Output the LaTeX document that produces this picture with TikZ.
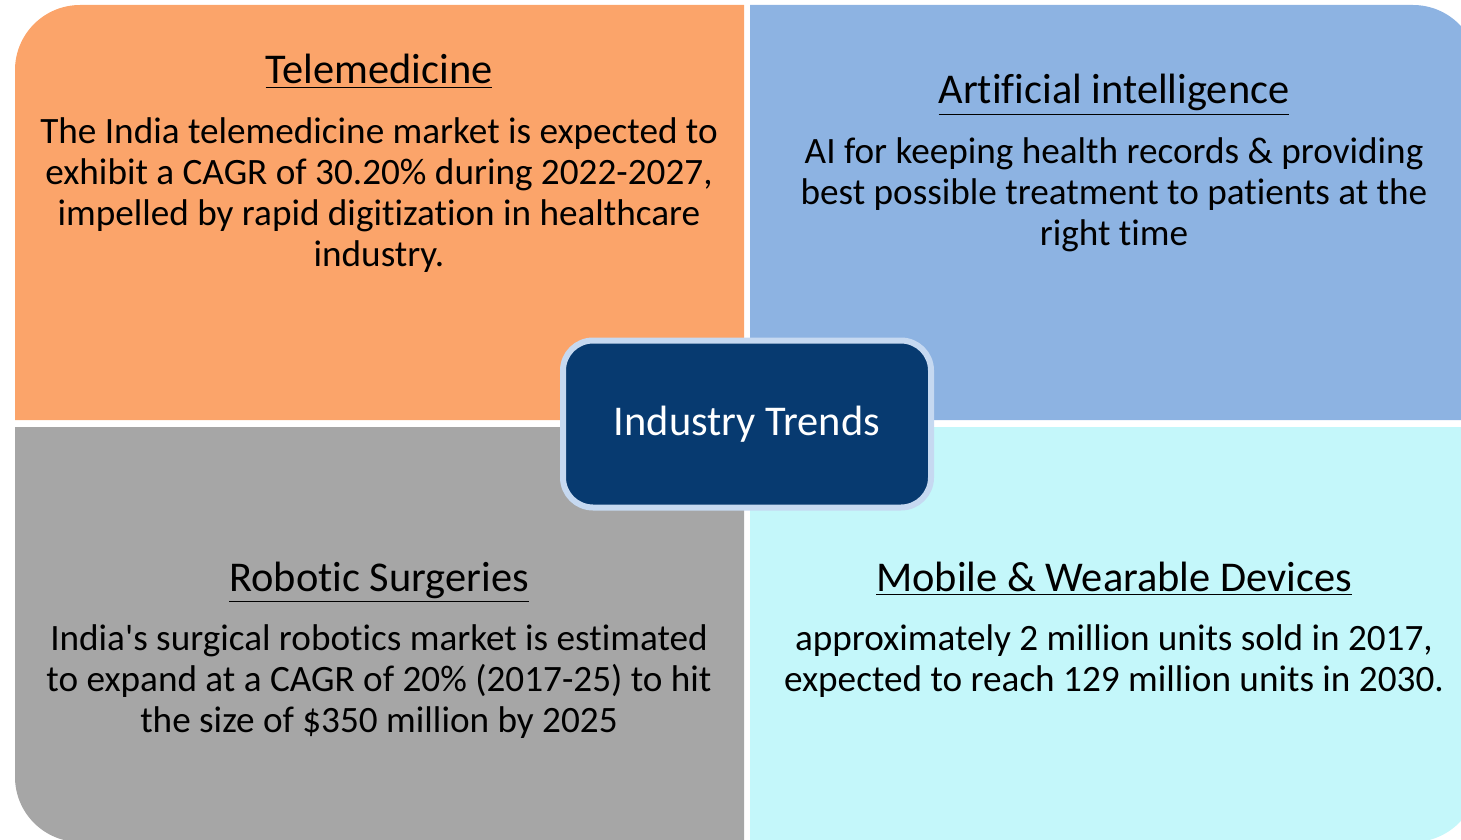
\documentclass[tikz,border=0pt]{standalone}
\usepackage{fontspec}
\setmainfont{Carlito}[Ligatures = NoCommon]
\usepackage{xcolor}
\usetikzlibrary{positioning, calc}

\definecolor{teleorange}{HTML}{FBA46A}
\definecolor{aiblue}{HTML}{8DB3E2}
\definecolor{robogray}{HTML}{A6A6A6}
\definecolor{mobilecyan}{HTML}{C4F7FA}
\definecolor{trendnavy}{HTML}{073A70}
\definecolor{trendrim}{HTML}{C6D9F1}

\begin{document}
\begin{tikzpicture}[x = 0.5pt, y = 0.5pt,
  title/.style = {anchor = base, inner sep = 0pt, font = \fontsize{21.2}{24}\selectfont},
  body/.style = {anchor = north, inner sep = 0pt, align = center, font = \fontsize{18.6}{20.5}\selectfont},
  hub/.style = {draw = trendrim, line width = 3pt, fill = trendnavy, rounded corners = 15pt,
    minimum width = 184pt, minimum height = 83.5pt, text = white, font = \fontsize{21.2}{24}\selectfont}]
\useasboundingbox (0, 0) rectangle (1461, -840);
% four quadrants, outer corners rounded
\fill[teleorange] (744, -5) -- (80, -5) arc[start angle = 90, end angle = 180, radius = 65] -- (15, -420) -- (744, -420) -- cycle;
\fill[aiblue] (750, -5) -- (1413, -5) arc[start angle = 90, end angle = 0, radius = 65] -- (1478, -420) -- (750, -420) -- cycle;
\fill[robogray] (744, -427) -- (15, -427) -- (15, -777) arc[start angle = 180, end angle = 270, radius = 65] -- (744, -842) -- cycle;
\fill[mobilecyan] (750, -427) -- (1478, -427) -- (1478, -777) arc[start angle = 0, end angle = -90, radius = 65] -- (750, -842) -- cycle;
% texts
\node[title] at (379, -84) (teletitle) {\underline{Telemedicine}};
\node[body] at (379, -117) (telebody) {The India telemedicine market is expected to\\ exhibit a CAGR of 30.20\% during 2022-2027,\\ impelled by rapid digitization in healthcare\\ industry.};
\node[title] at (1114, -104) (aititle) {\underline{Artificial intelligence}};
\node[body] at (1114, -137) (aibody) {AI for keeping health records \& providing\\ best possible treatment to patients at the\\ right time};
\node[title] at (379, -591) (robotitle) {\underline{Robotic Surgeries}};
\node[body] at (379, -624) (robobody) {India\textquotesingle s surgical robotics market is estimated\\ to expand at a CAGR of 20\% (2017-25) to hit\\ the size of \$350 million by 2025};
\node[title] at (1114, -591) (mobiletitle) {\underline{Mobile \& Wearable Devices}};
\node[body] at (1114, -624) (mobilebody) {approximately 2 million units sold in 2017,\\ expected to reach 129 million units in 2030.};
% centre
\node[hub] at (747, -424) (trends) {Industry Trends};
\end{tikzpicture}
\end{document}
